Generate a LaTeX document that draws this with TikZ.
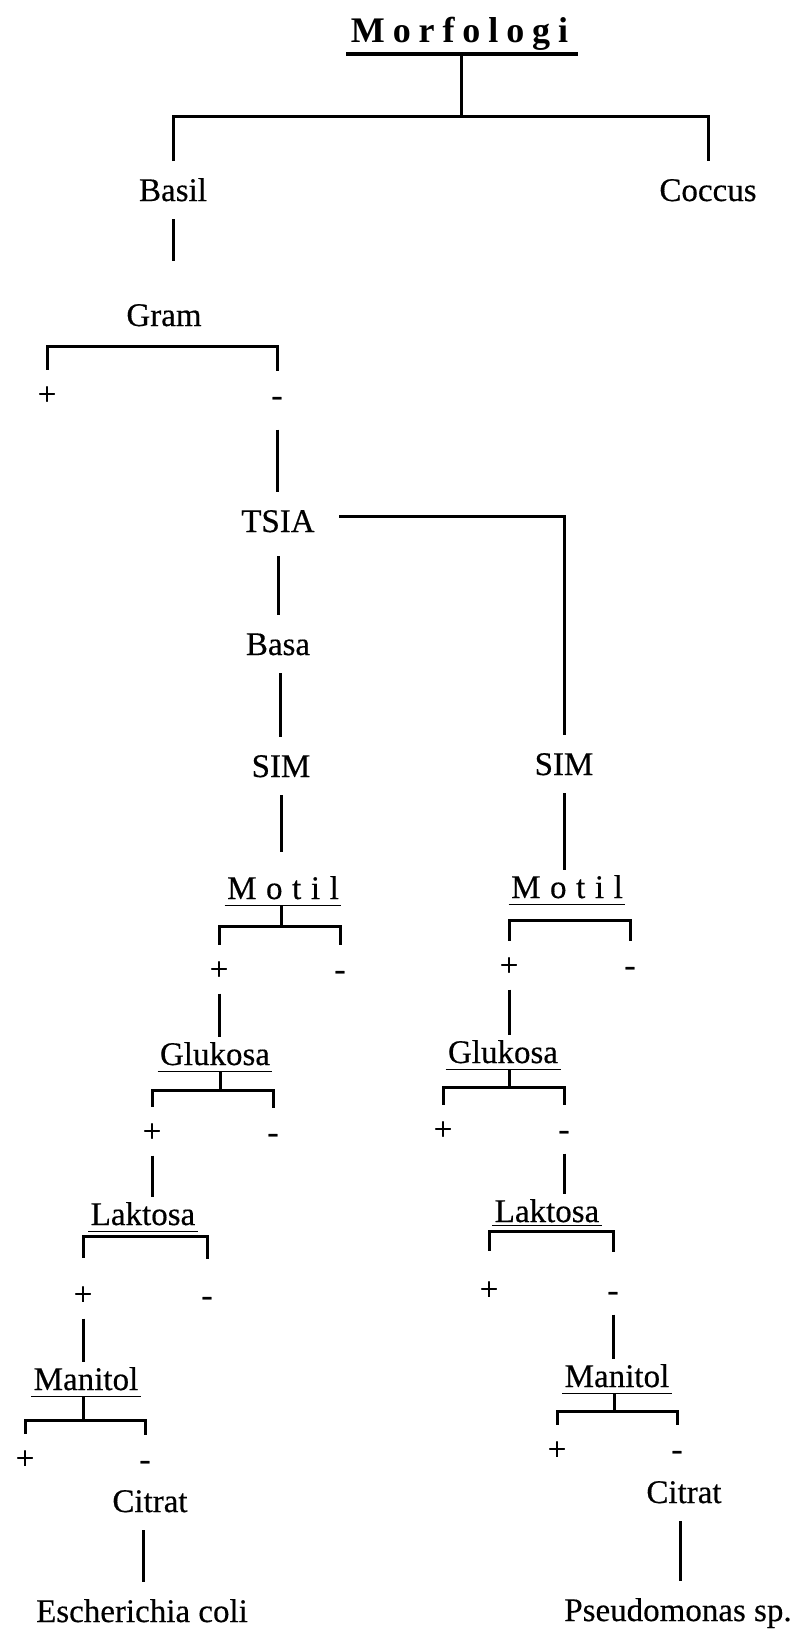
\documentclass[tikz,border=0pt]{standalone}
\usepackage{fontspec}
\setmainfont{Liberation Serif}
\newfontfamily\scanfont[FakeBold=0.4]{Liberation Serif}
\newcommand\fsz{\scanfont\fontsize{33}{40}\selectfont}
\newcommand\fbig{\fontsize{36}{43}\selectfont\bfseries}
\newcommand\spc{\kern9.6pt }
\begin{document}
\begin{tikzpicture}[x=1pt,y=-1pt,line width=3pt,
  lbl/.style={font=\fsz, inner xsep=2pt, inner ysep=16.5pt, text height=22pt, text depth=0pt},
  sgn/.style={font=\fsz, inner xsep=1pt, inner ysep=12pt, text height=22pt, text depth=0pt},
  ul/.style={lbl, inner xsep=1pt, inner ysep=5pt},
  ulline/.style={line width=1.8pt}]
\useasboundingbox[fill=white] (0,0) rectangle (803,1638);
% title
\node[font=\fbig, inner xsep=0pt, inner ysep=10pt, text height=24pt, text depth=0pt] (morf) at (459.5,30)
  {M\kern7.9pt o\kern7.9pt r\kern7.9pt f\kern7.9pt o\kern7.9pt l\kern7.9pt o\kern7.9pt g\kern7.9pt i};
\draw[line width=4pt] ([xshift=-3pt]morf.south west) -- ([xshift=8pt]morf.south east);
\coordinate (bTop) at (461,116);
\node[lbl] (basil) at (173,190) {Basil};
\node[lbl] (coccus) at (708,190) {Coccus};
\draw ([xshift=1.5pt]morf.south) -- (bTop);
\draw (basil) |- (bTop) -| (coccus);
% Gram
\node[lbl] (gram) at (164,315) {Gram};
\draw[shorten >=25pt] (basil.south) -- (basil.south |- gram.north);
\coordinate (bGram) at (164,346);
\node[sgn] (gp) at (47,394) {+};
\node[sgn] (gm) at (277,395) {-};
\draw (gp) |- (bGram) -| (gm);
% TSIA chain
\node[lbl] (tsia) at (278,521) {TSIA};
\node[lbl] (basa) at (278,644) {Basa};
\node[lbl] (sim1) at (281,766) {SIM};
\node[lbl] (sim2) at (564,764) {SIM};
\draw[shorten <=10pt] (gm.south) -- (gm.south |- tsia.north);
\draw[shorten <=6pt] (tsia.south) -- (tsia.south |- basa.north);
\draw ([xshift=2pt]basa.south) -- ([xshift=2pt]basa.south |- sim1.north);
\draw ([xshift=21pt,yshift=5pt]tsia.east) -| (sim2);
% Motil
\node[ul] (motil1) at (283,888) {M\spc o\spc t\spc i\spc l};
\node[ul] (motil2) at (567,887) {M\spc o\spc t\spc i\spc l};
\draw[ulline] (motil1.south west) -- (motil1.south east);
\draw[ulline] (motil2.south west) -- (motil2.south east);
\draw[shorten >=19pt] (sim1) -- (sim1 |- motil1.north);
\draw (sim2) -- (sim2 |- motil2.north);
\coordinate (bM1) at (281,926);
\coordinate (bM2) at (567,920);
\node[sgn] (m1p) at (219,969) {+};
\node[sgn] (m1m) at (340,969) {-};
\node[sgn] (m2p) at (509,965) {+};
\node[sgn] (m2m) at (630,965) {-};
\draw (motil1.south -| bM1) -- (bM1);
\draw (m1p) |- (bM1) -| (m1m);
\draw (m2p) |- (bM2) -| (m2m);
% Glukosa
\node[ul] (glu1) at (215,1054) {Glukosa};
\node[ul] (glu2) at (503,1052) {Glukosa};
\draw[ulline] (glu1.south west) -- (glu1.south east);
\draw[ulline] (glu2.south west) -- (glu2.south east);
\draw (m1p.south) -- (m1p.south |- glu1.north);
\draw (m2p.south) -- (m2p.south |- glu2.north);
\coordinate (bG1) at (220,1090);
\coordinate (bG2) at (509,1087);
\node[sgn] (g1p) at (152,1131) {+};
\node[sgn] (g1m) at (273,1132) {-};
\node[sgn] (g2p) at (443,1129) {+};
\node[sgn] (g2m) at (564,1129) {-};
\draw (glu1.south -| bG1) -- (bG1);
\draw (glu2.south -| bG2) -- (bG2);
\draw (g1p) |- (bG1) -| (g1m);
\draw (g2p) |- (bG2) -| (g2m);
% Laktosa
\node[ul] (lak1) at (143,1214) {Laktosa};
\node[ul, inner ysep=2pt] (lak2) at (547,1211) {Laktosa};
\draw[ulline] (lak1.south west) -- (lak1.south east);
\draw[ulline] (lak2.south west) -- (lak2.south east);
\draw (g1p.south) -- (g1p.south |- lak1.north);
\draw[shorten >=3pt] (g2m.south) -- (g2m.south |- lak2.north);
\coordinate (bL1) at (143,1236);
\coordinate (bL2) at (547,1231);
\node[sgn] (l1p) at (83,1294) {+};
\node[sgn] (l1m) at (207,1295) {-};
\node[sgn] (l2p) at (489,1289) {+};
\node[sgn] (l2m) at (613,1290) {-};
\draw ([yshift=12pt]l1p.north) |- (bL1) -| ([yshift=12pt]l1m.north);
\draw ([yshift=14pt]l2p.north) |- (bL2) -| ([yshift=14pt]l2m.north);
% Manitol
\node[ul] (man1) at (86,1379) {Manitol};
\node[ul] (man2) at (617,1376) {Manitol};
\draw[ulline] (man1.south west) -- (man1.south east);
\draw[ulline] (man2.south west) -- (man2.south east);
\draw (l1p.south) -- (l1p.south |- man1.north);
\draw (l2m.south) -- (l2m.south |- man2.north);
\coordinate (bN1) at (83,1420);
\coordinate (bN2) at (614,1411);
\node[sgn] (n1p) at (25,1458) {+};
\node[sgn] (n1m) at (145,1459) {-};
\node[sgn] (n2p) at (557,1449) {+};
\node[sgn] (n2m) at (677,1449) {-};
\draw (man1.south -| bN1) -- (bN1);
\draw (man2.south -| bN2) -- (bN2);
\draw (n1p) |- (bN1) -| (n1m);
\draw (n2p) |- (bN2) -| (n2m);
% Citrat and results
\node[lbl] (cit1) at (150,1501) {Citrat};
\node[lbl] (cit2) at (684,1492) {Citrat};
\node[lbl] (ec) at (142,1611) {Escherichia coli};
\node[lbl] (ps) at (678,1610) {Pseudomonas sp.};
\draw ([xshift=-7pt]cit1.south) -- ([xshift=-7pt]cit1.south |- ec.north);
\draw ([xshift=-4pt]cit2.south) -- ([xshift=-4pt]cit2.south |- ps.north);
\end{tikzpicture}
\end{document}
